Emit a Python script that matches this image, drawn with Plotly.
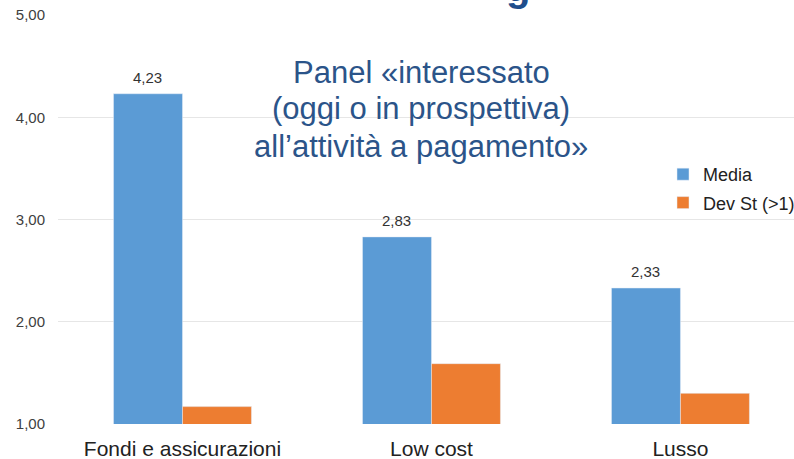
import plotly.graph_objects as go

# Categories and series
categories = ["Fondi e assicurazioni", "Low cost", "Lusso"]
media = [4.23, 2.83, 2.33]
dev_st = [1.17, 1.59, 1.30]
y_ticks = [1, 2, 3, 4, 5]
caption_lines = ["Panel «interessato", "(oggi o in prospettiva)", "all’attività a pagamento»"]

BLUE = "#5B9BD5"
ORANGE = "#ED7D31"
FONT = "Liberation Sans, Arial, sans-serif"

fig = go.Figure()
fig.add_trace(go.Bar(
    x=categories, y=media, name="Media", marker_color=BLUE,
    legendgroup="a",
))
fig.add_trace(go.Bar(
    x=categories, y=dev_st, name="Dev St (>1)", marker_color=ORANGE,
    legendgroup="b",
))

W, H = 794, 459
L, T, B = 58, 15, 35
plot_w = W - L
plot_h = H - T - B


def py(pix):
    """Pixel row -> paper y."""
    return (H - B - pix) / plot_h


def px(pix):
    """Pixel column -> paper x."""
    return (pix - L) / plot_w


fig.update_layout(
    width=W, height=H,
    margin=dict(l=L, r=0, t=T, b=B, autoexpand=False),
    paper_bgcolor="white", plot_bgcolor="white",
    separators=",.",
    barmode="group", bargap=0.446, bargroupgap=0,
    font=dict(family=FONT, color="#404040"),
    showlegend=True,
    legend=dict(
        x=px(663), y=py(156), xanchor="left", yanchor="top",
        traceorder="grouped", tracegroupgap=2,
        font=dict(size=18, color="#222222", family=FONT),
        bgcolor="rgba(0,0,0,0)",
    ),
    xaxis=dict(
        range=[-0.5, 2.456], showgrid=False, showline=False, zeroline=False,
        tickfont=dict(size=21, color="#222222", family=FONT),
        ticks="", ticklabelstandoff=10,
    ),
    yaxis=dict(
        range=[1, 5], tickvals=y_ticks, tickformat=".2f",
        showgrid=True, gridcolor="#E6E6E6", gridwidth=1,
        zeroline=False, showline=False, ticks="",
        tickfont=dict(size=15, color="#404040", family=FONT),
        ticklabelstandoff=12,
    ),
)

# Value labels above the "Media" bars (first bar of each group)
for i, (cat, v) in enumerate(zip(categories, media)):
    fig.add_annotation(
        text=f"{v:.2f}".replace(".", ","), x=i, y=v, xref="x", yref="y",
        xshift=-34.5, yshift=6, xanchor="center", yanchor="bottom",
        showarrow=False, font=dict(size=15, color="#333333", family=FONT),
    )

# Overlay caption inside the plot, one annotation per line
for line, yc in zip(caption_lines, [72, 109, 146]):
    fig.add_annotation(
        text=line, xref="paper", yref="paper",
        x=px(421), y=py(yc), xanchor="center", yanchor="middle",
        showarrow=False, align="center",
        font=dict(size=31, color="#2B5489", family=FONT),
    )

# Tail of the slide heading, cut by the top edge
fig.add_annotation(
    text="<b>g</b>", xref="paper", yref="paper",
    x=px(518), y=py(11), xanchor="center", yanchor="bottom",
    showarrow=False,
    font=dict(size=40, color="#1F4E8C", family=FONT),
)

fig.write_html("out.html")
